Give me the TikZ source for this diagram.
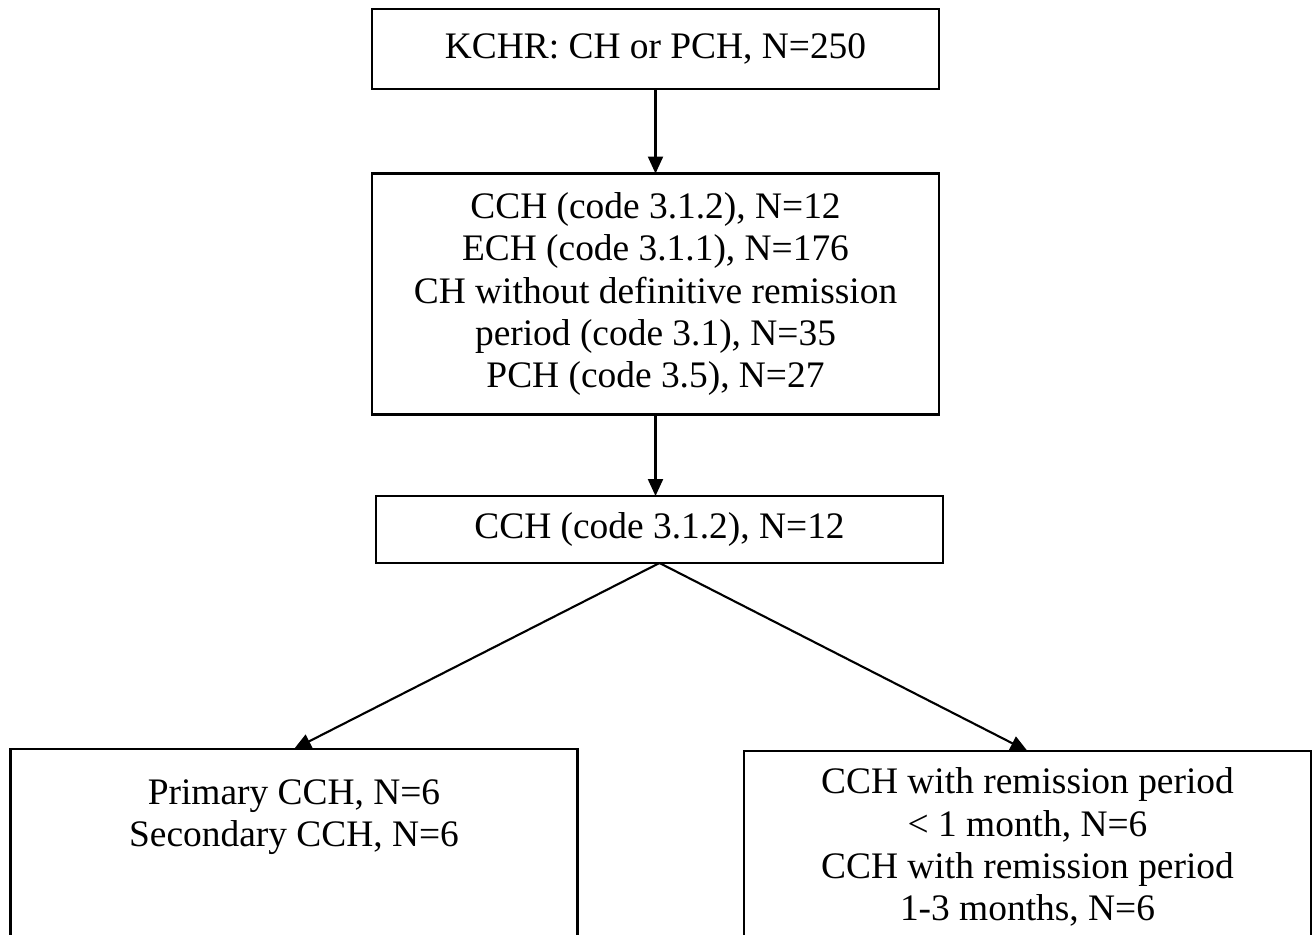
\documentclass[tikz,border=0pt]{standalone}
\usepackage{fontspec}
\setmainfont{Liberation Serif}
\usepackage{tikz}
\usetikzlibrary{positioning, arrows.meta}

\tikzset{
  boxtext/.style={align=center, inner sep=0pt, font=\fontsize{21.3}{24}\selectfont},
  flowbox/.style={boxtext, draw=black, line width=1.6pt, fill=white,
                  outer sep=0pt, minimum width=11.34cm},
  flowarrow/.style={line width=1.2pt, -{Triangle[width=0.3cm, length=0.34cm]}}
}

\begin{document}
\begin{tikzpicture}[x=0.02cm, y=-0.02cm]
      \useasboundingbox (0,0) rectangle (1314,934);
      %% Registry total
      \node[flowbox, minimum height=1.6cm] (kchr) at (655.5,49) {KCHR: CH or PCH, N=250};
      %% Subtypes by code
      \node[flowbox, minimum height=4.82cm] (codes) at (655.5,294)
        {CCH (code 3.1.2), N=12\\
         ECH (code 3.1.1), N=176\\
         CH without definitive remission\\
         period (code 3.1), N=35\\
         PCH (code 3.5), N=27};
      %% Chronic cluster headache
      \node[flowbox, minimum height=1.34cm] (cch) at (659.5,529.5) {CCH (code 3.1.2), N=12};
      %% Primary / secondary split
      \node[flowbox, minimum height=3.84cm] (primsec) at (294,845) {};
      \node[boxtext] (primsectext) at (294,817)
        {Primary CCH, N=6\\
         Secondary CCH, N=6};
      %% Remission period split
      \node[flowbox, minimum height=3.84cm] (remission) at (1027.5,847)
        {CCH with remission period\\
         {<} 1 month, N=6\\
         CCH with remission period\\
         1-3 months, N=6};
      %% Connectors
      \draw[flowarrow] (kchr.south) -- (codes.north);
      \draw[flowarrow] (codes.south) -- (codes.south |- cch.north);
      \draw[flowarrow] (cch.south) -- (primsec.north);
      \draw[flowarrow] (cch.south) -- (remission.north);
    \end{tikzpicture}
\end{document}
